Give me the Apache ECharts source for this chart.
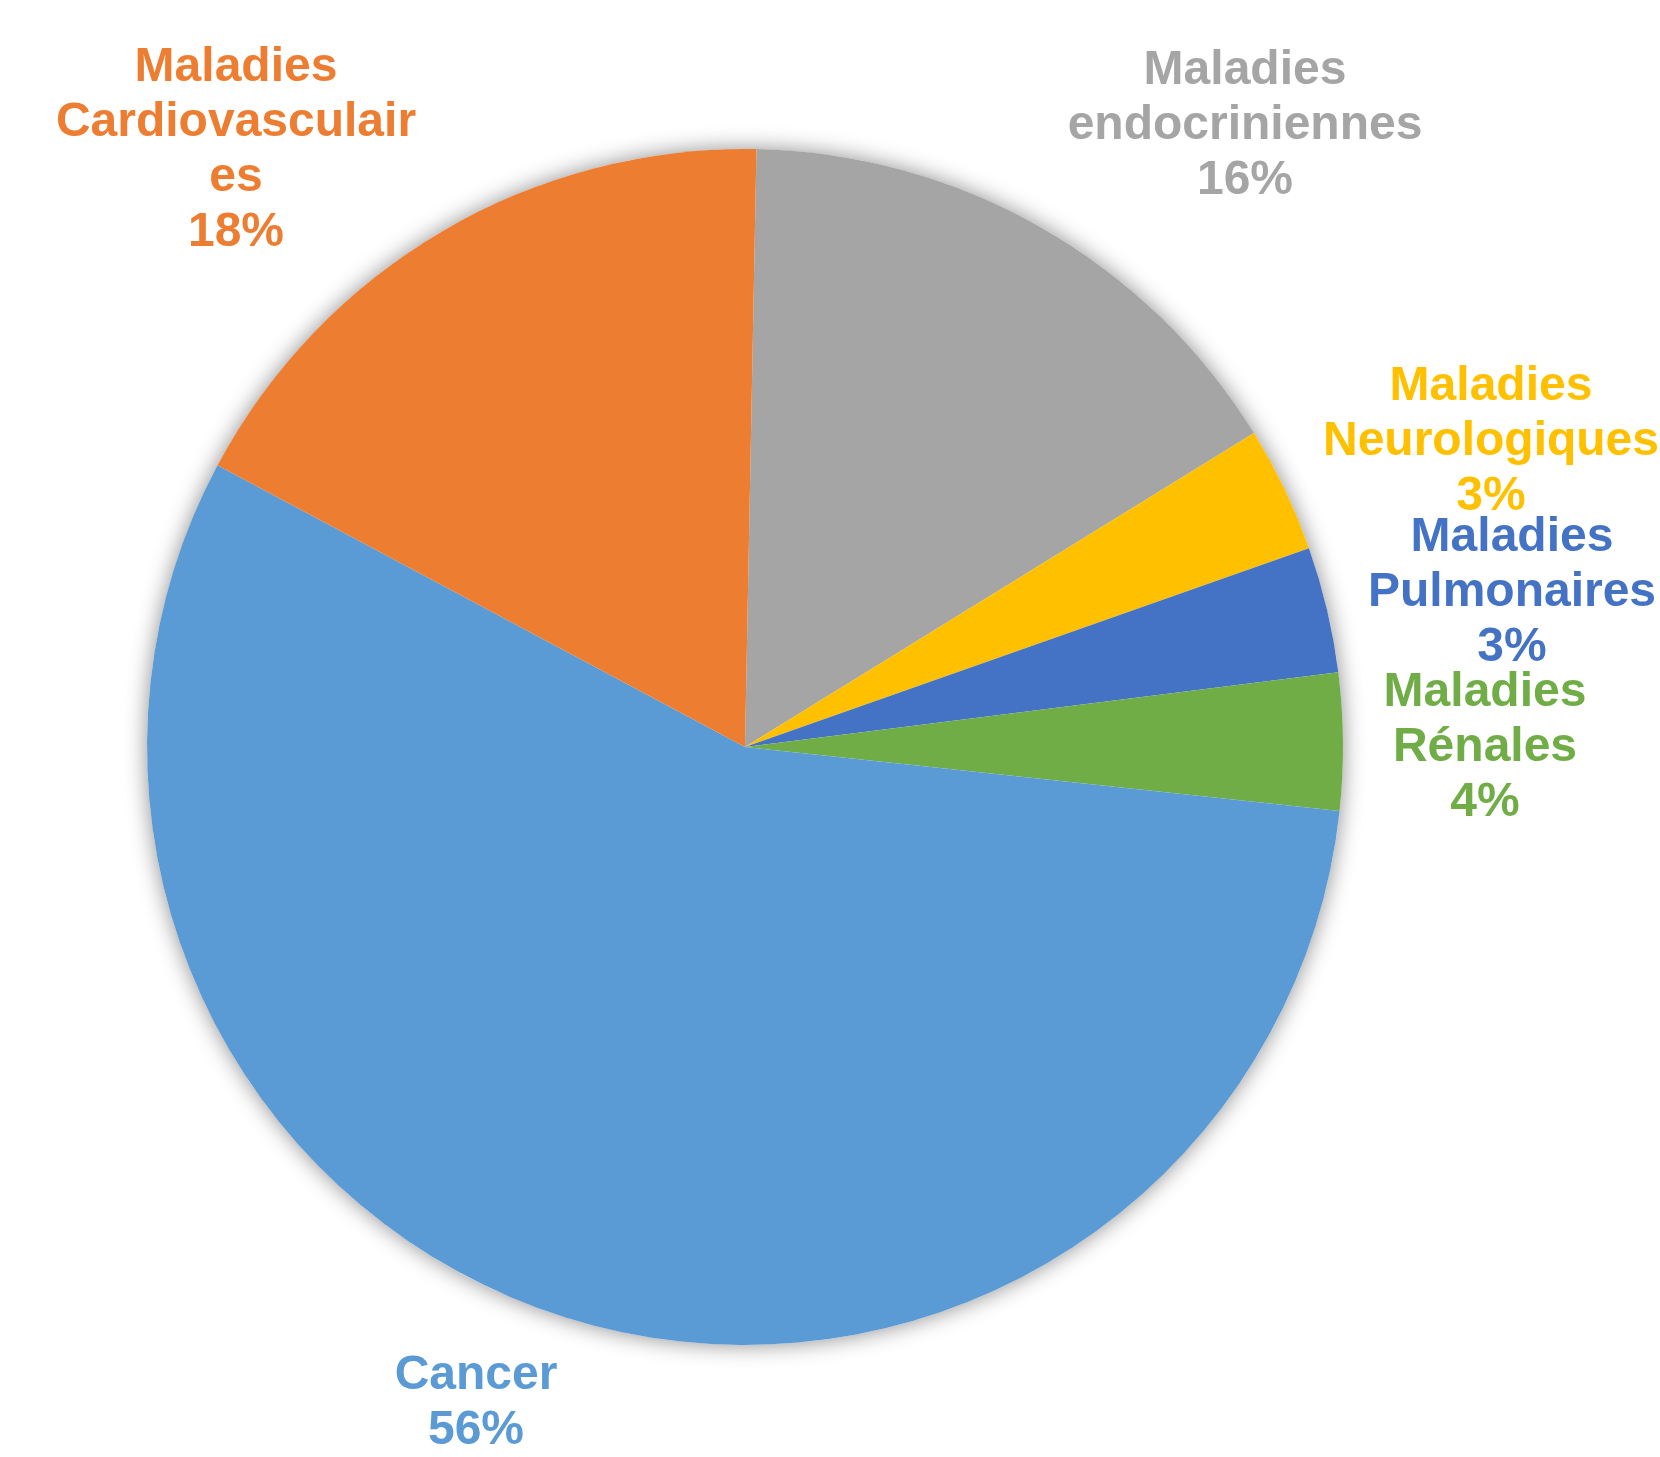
<!DOCTYPE html>
<html>
<head>
<meta charset="utf-8">
<script src="https://cdn.jsdelivr.net/npm/echarts@6/dist/echarts.min.js"></script>
<style>
html,body{margin:0;padding:0;background:#fff;}
#main{width:1660px;height:1457px;}
</style>
</head>
<body>
<div id="main"></div>
<script>
// Data (clockwise from the top)
const categories = [
  'Maladies\nendocriniennes',
  'Maladies\nNeurologiques',
  'Maladies\nPulmonaires',
  'Maladies\nRénales',
  'Cancer',
  'Maladies\nCardiovasculair\nes'
];
const values = [15.9, 3.4, 3.4, 3.7, 56.1, 17.5];
const colors = ['#A5A5A5', '#FFC000', '#4472C4', '#70AD47', '#5B9BD5', '#ED7D31'];

// Label anchor points (pixel centres of each label block)
const labelPos = [
  [1245, 126],
  [1491, 442],
  [1512, 593],
  [1485, 748],
  [476, 1403],
  [236, 150]
];

const total = values.reduce((a, b) => a + b, 0);
const chart = echarts.init(document.getElementById('main'), null, {renderer: 'canvas'});

const FONT = 'Liberation Sans, Arial, sans-serif';

chart.setOption({
  animation: false,
  backgroundColor: '#ffffff',
  series: [
    {
      type: 'pie',
      silent: true,
      center: [745, 747],
      radius: [0, 598],
      label: {show: false},
      labelLine: {show: false},
      emphasis: {disabled: true},
      itemStyle: {
        color: '#ffffff',
        shadowBlur: 22,
        shadowColor: 'rgba(0,0,0,0.45)',
        shadowOffsetX: 0,
        shadowOffsetY: 0
      },
      data: [{value: total, name: 'total'}]
    },
    {
      type: 'pie',
      center: [745, 747],
      radius: [0, 598],
      startAngle: 88.9,
      clockwise: true,
      avoidLabelOverlap: false,
      percentPrecision: 0,
      itemStyle: {borderWidth: 0},
      emphasis: {disabled: true},
      label: {
        show: true,
        position: 'outside',
        formatter: '{b}\n{d}%',
        fontFamily: FONT,
        fontWeight: 'bold',
        fontSize: 48,
        lineHeight: 55,
        align: 'center'
      },
      labelLine: {show: false},
      labelLayout: function (p) {
        const pos = labelPos[p.dataIndex];
        return {x: pos[0], y: pos[1], align: 'center', verticalAlign: 'middle', hideOverlap: false};
      },
      data: categories.map((c, i) => ({
        name: c,
        value: values[i],
        itemStyle: {color: colors[i]},
        label: {color: colors[i]}
      }))
    }
  ]
});
</script>
</body>
</html>
